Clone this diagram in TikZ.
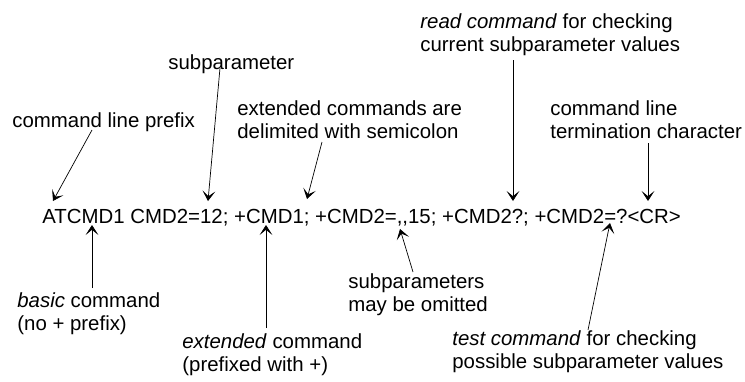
\documentclass[tikz,border=0pt]{standalone}
\usepackage{fontspec}
\setmainfont{Liberation Sans}
\usetikzlibrary{arrows.meta}

\begin{document}
\begin{tikzpicture}
    [x=0.5pt, y=-0.5pt,
     note/.style={inner sep=0pt, align=left, anchor=north west, font=\fontsize{10.2}{11.6}\selectfont},
     ptr/.style={line width=0.35pt, -{Stealth[length=5pt, width=6.4pt, inset=2.6pt]}}]
    \useasboundingbox (0,0) rectangle (745,381);

    \node[note, anchor=base west] (cmdline) at (42,223) {ATCMD1 CMD2=12; +CMD1; +CMD2=,{},15; +CMD2?; +CMD2=?<CR>};

    \node[note] (prefix) at (12,112) {command line prefix};
    \node[note] (subpar) at (168,54) {subparameter};
    \node[note] (delim) at (237,100) {extended commands are\\delimited with semicolon};
    \node[note] (readcmd) at (420,13) {\textit{read command} for checking\\current subparameter values};
    \node[note] (termchar) at (550,100) {command line\\termination character};
    \node[note] (basic) at (17,292) {\textit{basic} command\\(no + prefix)};
    \node[note] (extcmd) at (182,333) {\textit{extended} command\\(prefixed with +)};
    \node[note] (omit) at (348,273) {subparameters\\may be omitted};
    \node[note] (testcmd) at (452,330) {\textit{test command} for checking\\possible subparameter values};

    \coordinate (prefixtail) at (92,130);   \coordinate (prefixtip) at (53,201);
    \coordinate (subpartail) at (220,68);   \coordinate (subpartip) at (208,201);
    \coordinate (delimtail) at (322,142);   \coordinate (delimtip) at (307,199);
    \coordinate (readtail) at (513,60);     \coordinate (readtip) at (513,201);
    \coordinate (termtail) at (648,143);    \coordinate (termtip) at (648,201);
    \coordinate (basictail) at (92,288);    \coordinate (basictip) at (92,225);
    \coordinate (exttail) at (266,328);     \coordinate (exttip) at (266,225);
    \coordinate (omittail) at (413,272);    \coordinate (omittip) at (400,229);
    \coordinate (testtail) at (588,330);    \coordinate (testtip) at (610,223);

    \draw[ptr] (prefixtail) -- (prefixtip);
    \draw[ptr] (subpartail) -- (subpartip);
    \draw[ptr] (delimtail) -- (delimtip);
    \draw[ptr] (readtail) -- (readtip);
    \draw[ptr] (termtail) -- (termtip);
    \draw[ptr] (basictail) -- (basictip);
    \draw[ptr] (exttail) -- (exttip);
    \draw[ptr] (omittail) -- (omittip);
    \draw[ptr] (testtail) -- (testtip);

\end{tikzpicture}
\end{document}
